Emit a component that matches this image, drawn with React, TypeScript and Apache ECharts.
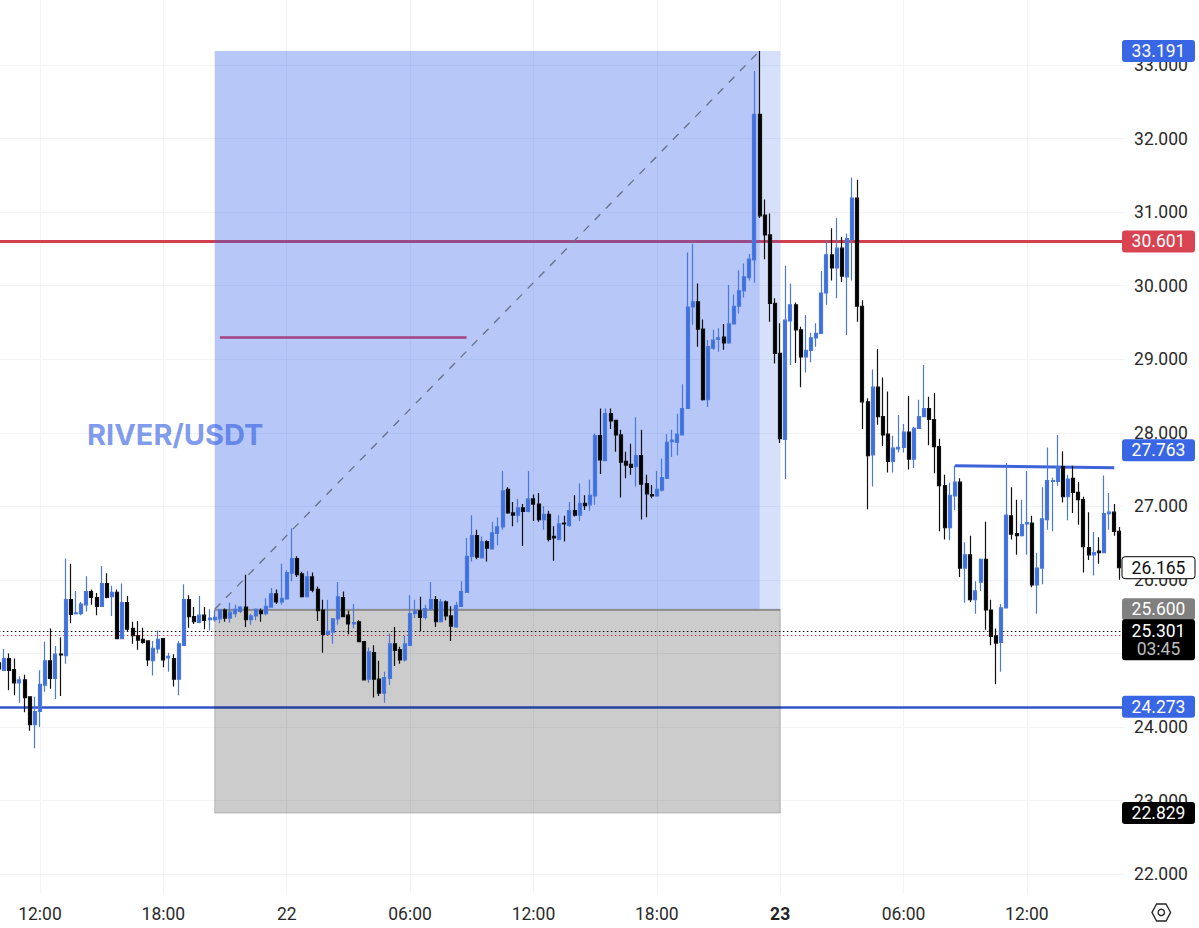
import React, { useEffect, useRef } from "react";
import * as echarts from "echarts";

const opens = [
  24.87,24.77,24.93,24.78,24.60,24.64,24.41,24.03,24.21,24.57,
  24.90,24.66,24.99,24.97,25.73,25.54,25.54,25.66,25.84,25.76,
  25.64,25.95,25.77,25.83,25.20,25.69,25.34,25.24,25.19,25.17,
  24.90,25.06,25.20,24.94,24.93,24.65,25.11,25.73,25.50,25.42,
  25.52,25.46,25.46,25.47,25.59,25.48,25.54,25.57,25.63,25.46,
  25.51,25.58,25.54,25.63,25.81,25.70,25.74,26.09,26.29,26.08,
  25.77,26.04,25.87,25.59,25.26,25.29,25.47,25.76,25.52,25.40,
  25.43,25.16,24.65,25.01,24.65,24.46,24.66,25.13,25.05,24.91,
  25.11,25.54,25.58,25.49,25.60,25.73,25.43,25.70,25.51,25.36,
  25.64,25.83,26.32,26.60,26.30,26.52,26.42,26.63,26.72,27.23,
  26.91,26.88,26.98,26.93,27.10,27.03,26.82,26.89,26.59,26.55,
  26.77,26.74,26.94,26.88,27.04,27.02,27.14,27.96,27.62,28.26,
  28.17,27.97,27.61,27.57,27.54,27.69,27.31,27.16,27.14,27.22,
  27.38,27.88,27.87,27.97,28.33,29.71,29.78,29.41,28.45,29.15,
  29.27,29.30,29.22,29.48,29.72,29.93,30.11,30.35,32.33,30.96,
  30.69,29.76,29.08,27.91,29.52,29.74,29.40,29.03,29.12,29.29,
  29.35,29.90,30.42,30.24,30.51,30.12,30.63,31.19,29.72,28.42,
  27.70,28.62,28.22,27.98,27.61,27.78,27.80,28.01,27.64,28.06,
  28.22,28.33,28.18,27.81,27.28,26.71,27.14,27.33,26.16,26.34,
  25.73,25.97,26.28,25.59,25.24,25.15,25.62,26.87,26.63,26.60,
  26.76,26.77,25.93,26.16,26.82,27.34,27.34,27.54,27.13,27.38,
  27.19,27.09,26.44,26.34,26.39,26.37,26.90,26.92,26.66,
];
const closes = [
  24.79,24.93,24.77,24.60,24.64,24.40,24.03,24.21,24.58,24.90,
  24.66,24.99,24.98,25.73,25.53,25.55,25.67,25.84,25.76,25.64,
  25.95,25.76,25.83,25.20,25.69,25.33,25.24,25.18,25.15,24.91,
  25.07,25.19,24.91,24.96,24.65,25.13,25.73,25.50,25.43,25.52,
  25.45,25.48,25.49,25.59,25.48,25.56,25.60,25.63,25.46,25.51,
  25.60,25.54,25.64,25.81,25.70,25.75,26.10,26.29,26.07,25.77,
  26.04,25.86,25.58,25.26,25.30,25.47,25.77,25.50,25.40,25.42,
  25.16,24.64,25.02,24.65,24.46,24.67,25.13,25.04,24.91,25.13,
  25.54,25.58,25.49,25.61,25.73,25.43,25.70,25.51,25.37,25.65,
  25.84,26.32,26.60,26.31,26.52,26.43,26.64,26.72,27.21,26.91,
  26.88,26.98,26.93,27.10,27.03,26.82,26.89,26.55,26.57,26.76,
  26.76,26.94,26.88,27.04,27.01,27.15,27.96,27.63,28.26,28.16,
  27.97,27.60,27.56,27.53,27.69,27.30,27.17,27.14,27.23,27.39,
  27.87,27.90,27.98,28.33,29.71,29.78,29.41,28.45,29.17,29.26,
  29.29,29.22,29.48,29.72,29.93,30.12,30.36,32.33,30.95,30.69,
  29.76,29.08,27.92,29.53,29.74,29.40,29.03,29.12,29.29,29.35,
  29.90,30.42,30.24,30.51,30.13,30.64,31.19,29.72,28.42,27.69,
  28.62,28.22,27.97,27.61,27.79,27.80,28.01,27.64,28.06,28.22,
  28.33,28.18,27.81,27.28,26.71,27.15,27.33,26.16,26.34,25.73,
  25.85,26.28,25.59,25.23,25.14,25.62,26.88,26.62,26.60,26.75,
  26.78,25.93,26.16,26.83,27.35,27.35,27.54,27.13,27.37,27.19,
  27.09,26.45,26.34,26.37,26.37,26.90,26.92,26.66,26.165,
];
const lows = [
  24.75,24.77,24.50,24.43,24.33,24.20,23.95,23.71,24.00,24.48,
  24.52,24.38,24.42,24.86,25.41,25.53,25.52,25.57,25.66,25.52,
  25.64,25.75,25.51,25.20,25.20,25.30,25.13,25.05,25.13,24.83,
  24.70,25.00,24.81,24.75,24.55,24.43,25.10,25.35,25.40,25.41,
  25.33,25.31,25.43,25.41,25.43,25.42,25.49,25.55,25.36,25.39,
  25.45,25.43,25.52,25.63,25.67,25.66,25.73,25.98,26.04,25.76,
  25.76,25.83,25.44,25.01,25.25,25.13,25.39,25.50,25.26,25.34,
  25.15,24.64,24.60,24.40,24.42,24.33,24.57,24.83,24.86,24.89,
  25.10,25.48,25.30,25.46,25.58,25.36,25.42,25.45,25.17,25.35,
  25.63,25.83,26.25,26.28,26.29,26.25,26.42,26.47,26.68,26.90,
  26.73,26.78,26.46,26.92,26.80,26.79,26.68,26.52,26.26,26.54,
  26.52,26.72,26.86,26.80,26.95,26.94,27.02,27.44,27.62,28.05,
  27.74,27.12,27.38,27.43,27.27,26.82,26.85,27.11,27.13,27.20,
  27.38,27.67,27.69,27.97,28.33,29.47,29.17,28.44,28.35,29.13,
  29.10,29.13,29.21,29.48,29.62,29.84,30.07,30.04,30.92,30.36,
  29.51,28.94,27.86,27.37,28.92,28.95,28.62,28.82,28.96,29.17,
  29.35,29.74,30.07,29.83,30.05,29.33,30.07,29.51,28.05,26.96,
  27.27,28.11,27.82,27.46,27.46,27.73,27.73,27.50,27.52,28.06,
  28.22,27.83,27.45,26.66,26.55,26.54,26.95,26.04,25.69,25.70,
  25.54,25.85,25.32,25.11,24.58,24.75,25.62,26.55,26.34,26.59,
  26.34,25.90,25.54,25.94,26.68,26.66,27.28,27.05,26.81,26.91,
  26.75,26.10,26.27,26.06,26.22,26.37,26.68,26.60,26.00,
];
const highs = [
  24.89,25.06,25.00,24.93,24.69,24.71,24.41,24.41,24.77,25.16,
  25.34,25.10,25.22,26.29,26.22,25.85,25.70,26.05,25.87,25.82,
  26.19,26.09,25.92,25.87,25.95,25.78,25.43,25.44,25.35,25.17,
  25.17,25.31,25.21,25.01,24.99,25.17,25.94,25.79,25.63,25.78,
  25.63,25.60,25.59,25.60,25.61,25.69,25.66,25.64,26.07,25.54,
  25.61,25.61,25.75,25.89,25.87,26.22,26.13,26.70,26.32,26.11,
  26.12,26.10,25.91,25.73,25.73,25.48,25.97,25.84,25.58,25.67,
  25.45,25.17,25.08,25.11,24.90,24.75,25.27,25.36,25.09,25.24,
  25.79,25.73,25.77,25.66,25.97,25.78,25.74,25.72,25.64,25.70,
  25.98,26.57,26.88,26.68,26.59,26.54,26.79,26.85,27.48,27.26,
  27.06,27.10,27.03,27.48,27.16,27.18,27.00,26.94,26.73,26.88,
  26.87,27.06,27.15,27.31,27.15,27.36,27.99,28.33,28.33,28.33,
  28.17,28.04,27.74,27.85,28.21,28.04,27.43,27.29,27.48,27.65,
  27.98,28.04,28.26,28.66,30.45,30.57,30.03,29.54,29.26,29.40,
  29.42,29.48,30.01,29.88,30.21,30.30,30.43,32.92,33.19,31.17,
  30.98,29.83,29.49,30.27,30.03,29.77,29.44,29.60,29.36,29.49,
  30.20,30.62,30.78,30.92,30.66,30.71,31.47,31.44,29.80,28.47,
  28.86,29.14,28.75,28.56,27.96,28.24,28.12,28.50,28.08,28.45,
  28.92,28.49,28.54,27.92,27.43,27.32,27.55,27.38,26.51,26.60,
  25.98,26.29,26.79,25.73,25.34,25.67,27.59,27.26,27.09,27.09,
  27.48,26.87,26.37,27.26,27.80,27.39,27.97,27.75,27.43,27.55,
  27.33,27.13,26.92,26.65,26.58,27.42,27.18,27.03,26.72,
];

// 15-minute bars: 21st 10:00 onwards, plus one empty slot on the right
const days = [21, 22, 23];
const categories: string[] = [];
days.forEach((d) => {
  for (let h = 0; h < 24; h++) {
    for (const m of ["00", "15", "30", "45"]) {
      categories.push(`${d} ${String(h).padStart(2, "0")}:${m}`);
    }
  }
});
const timeCats = categories.slice(40, 40 + 220);

const xTickNames = ["21 12:00", "21 18:00", "22 00:00", "22 06:00", "22 12:00", "22 18:00", "23 00:00", "23 06:00", "23 12:00"];
const xTickLabels = ["12:00", "18:00", "22", "06:00", "12:00", "18:00", "23", "06:00", "12:00"];

const targetPrice = 33.191;
const entryPrice = 25.6;
const stopPrice = 22.829;
const redLevel = 30.601;
const blueLevel = 24.273;
const lastPrice = 25.301;
const redDottedLevel = 25.245;
const purpleLevel = 29.3;
const shortLineLevels = [27.55, 27.525];

const tagPrices = [33.191, 30.601, 27.763, 26.165, 25.6, 24.273, 22.829];
const tagLabels = ["33.191", "30.601", "27.763", "26.165", "25.600", "24.273", "22.829"];
const tagFills = ["#3966e4", "#d94452", "#3966e4", "#ffffff", "#808080", "#3966e4", "#000000"];
const tagTexts = ["#ffffff", "#ffffff", "#ffffff", "#111111", "#ffffff", "#ffffff", "#ffffff"];
const countdown = "03:45";

const FONT = "Roboto, 'Noto Sans', sans-serif";
const TITLE_FONT = "Inter, 'Noto Sans', sans-serif";
const AXIS_SIZE = 17.5;
const BAND = 5.14;
const LEFT = -1.12;
const yOf = (p: number) => 65 + (33 - p) * 73.55;

const buildGraphic = () => {
  const els: any[] = [];
  tagPrices.forEach((p, i) => {
    const cy = yOf(p);
    els.push({
      type: "rect", z: 100,
      shape: { x: 1122, y: cy - 11, width: 73, height: 22, r: 3 },
      style: { fill: tagFills[i], stroke: tagFills[i] === "#ffffff" ? "#000" : undefined, lineWidth: 1 },
    });
    els.push({
      type: "text", z: 101, x: 1158.5, y: cy,
      style: { text: tagLabels[i], fill: tagTexts[i], font: `${AXIS_SIZE}px ${FONT}`, textAlign: "center", textVerticalAlign: "middle" },
    });
  });
  const cy = yOf(lastPrice);
  els.push({ type: "rect", z: 100, shape: { x: 1122, y: cy - 12, width: 73, height: 41, r: 3 }, style: { fill: "#000" } });
  els.push({ type: "text", z: 101, x: 1158.5, y: cy - 0.5, style: { text: lastPrice.toFixed(3), fill: "#fff", font: `${AXIS_SIZE}px ${FONT}`, textAlign: "center", textVerticalAlign: "middle" } });
  els.push({ type: "text", z: 101, x: 1158.5, y: cy + 18, style: { text: countdown, fill: "#bdbdbd", font: `${AXIS_SIZE}px ${FONT}`, textAlign: "center", textVerticalAlign: "middle" } });
  els.push({
    type: "text", z: 50, x: 87, y: 434,
    style: { text: "RIVER/USDT", fill: "rgba(54,98,227,0.65)", font: `bold 29px ${TITLE_FONT}`, textAlign: "left", textVerticalAlign: "middle" },
  });
  els.push({
    type: "polygon", z: 100,
    shape: { points: [[1152, 912.4], [1156.6, 904], [1166, 904], [1170.6, 912.4], [1166, 921], [1156.6, 921]] },
    style: { fill: "none", stroke: "#222", lineWidth: 1.3 },
  });
  els.push({ type: "circle", z: 100, shape: { cx: 1161.3, cy: 912.4, r: 3.2 }, style: { fill: "none", stroke: "#222", lineWidth: 1.3 } });
  return els;
};

export default function App() {
  const ref = useRef<HTMLDivElement>(null);
  useEffect(() => {
    const chart = echarts.init(ref.current!, undefined, { renderer: "svg" });
    const cat = (i: number) => timeCats[i];
    const candles = opens.map((o, i) => [o, closes[i], lows[i], highs[i]]);
    const width = (timeCats.length - 1) * BAND;
    const option: any = {
      animation: false,
      backgroundColor: "#ffffff",
      grid: [
        { left: LEFT, width, top: -8.55, height: 956.15, outerBoundsMode: "none", containLabel: false },
        { left: LEFT, width, top: 0, height: 893, outerBoundsMode: "none", containLabel: false },
      ],
      xAxis: [
        { type: "category", gridIndex: 0, data: timeCats, boundaryGap: false, show: false },
        {
          type: "category", gridIndex: 1, data: timeCats, boundaryGap: false,
          axisLine: { show: false }, axisTick: { show: false },
          splitLine: {
            show: true, lineStyle: { color: "#f2f3f5", width: 1 },
            interval: (_: number, v: string) => xTickNames.includes(v),
          },
          axisLabel: {
            interval: (_: number, v: string) => xTickNames.includes(v),
            formatter: (v: string) => {
              const lab = xTickLabels[xTickNames.indexOf(v)];
              return lab === "23" ? `{b|${lab}}` : lab;
            },
            rich: { b: { fontWeight: "bold", fontSize: AXIS_SIZE, fontFamily: FONT, color: "#222" } },
            color: "#2a2a2a", fontSize: AXIS_SIZE, fontFamily: FONT, margin: 12,
          },
        },
      ],
      yAxis: [
        {
          type: "value", gridIndex: 0, position: "right", min: 21, max: 34, interval: 1,
          axisLine: { show: false }, axisTick: { show: false },
          splitLine: { show: true, lineStyle: { color: "#f2f3f5", width: 1 } },
          axisLabel: {
            showMinLabel: false, showMaxLabel: false, margin: 9.5,
            formatter: (v: number) => v.toFixed(3),
            color: "#2a2a2a", fontSize: AXIS_SIZE, fontFamily: FONT,
          },
        },
        { type: "value", gridIndex: 1, min: 0, max: 1, show: false },
      ],
      graphic: { elements: buildGraphic() },
      series: [
        {
          type: "line", xAxisIndex: 0, yAxisIndex: 0, data: [], silent: true, z: 1,
          markLine: {
            z: 1, silent: true, symbol: "none", label: { show: false },
            data: [
              { yAxis: redLevel, lineStyle: { color: "#d2404e", width: 3, type: "solid" } },
              { yAxis: blueLevel, lineStyle: { color: "#2f55c9", width: 2.5, type: "solid" } },
              { yAxis: lastPrice, lineStyle: { color: "#000", width: 1.2, type: [1.5, 2.5] } },
              { yAxis: redDottedLevel, lineStyle: { color: "#d6414f", width: 1, type: [1.5, 2.5] } },
            ],
          },
        },
        {
          type: "line", xAxisIndex: 0, yAxisIndex: 0, data: [], silent: true, z: 2,
          markArea: {
            z: 2, silent: true,
            data: [
              [
                { coord: [cat(42), targetPrice], itemStyle: { color: "rgba(54,98,235,0.2)" } },
                { coord: [cat(152), entryPrice] },
              ],
              [
                { coord: [cat(42), targetPrice], itemStyle: { color: "rgba(54,98,235,0.2)" } },
                { coord: [cat(148), entryPrice] },
              ],
              [
                { coord: [cat(42), entryPrice], itemStyle: { color: "rgba(0,0,0,0.2)", borderColor: "rgba(0,0,0,0.2)", borderWidth: 1 } },
                { coord: [cat(152), stopPrice] },
              ],
            ],
          },
        },
        {
          type: "line", xAxisIndex: 0, yAxisIndex: 0, data: [], silent: true, z: 3,
          markLine: {
            z: 3, silent: true, symbol: "none", label: { show: false },
            data: [
              [
                { coord: [cat(42), entryPrice], lineStyle: { color: "#686e88", width: 1.3, type: [8, 8] } },
                { coord: [cat(148), targetPrice] },
              ],
              [
                { coord: [cat(42), entryPrice], lineStyle: { color: "#808080", width: 1.5, type: "solid" } },
                { coord: [cat(152), entryPrice] },
              ],
              [
                { coord: [cat(43), purpleLevel], lineStyle: { color: "#a2427f", width: 2.5, type: "solid" } },
                { coord: [cat(91), purpleLevel] },
              ],
              [
                { coord: [cat(186), shortLineLevels[0]], lineStyle: { color: "#3c63d8", width: 3, type: "solid" } },
                { coord: [cat(217), shortLineLevels[1]] },
              ],
            ],
          },
        },
        {
          type: "candlestick", xAxisIndex: 0, yAxisIndex: 0, data: candles, clip: false, z: 5, barWidth: 3.5,
          itemStyle: { color: "#3f70dd", color0: "#000000", borderColor: "#4a78dc", borderColor0: "#111111", borderWidth: 1.2 },
        },
      ],
    };
    chart.setOption(option);
    return () => chart.dispose();
  }, []);
  return <div ref={ref} style={{ position: "fixed", left: 0, top: 0, width: 1199, height: 928 }} />;
}
